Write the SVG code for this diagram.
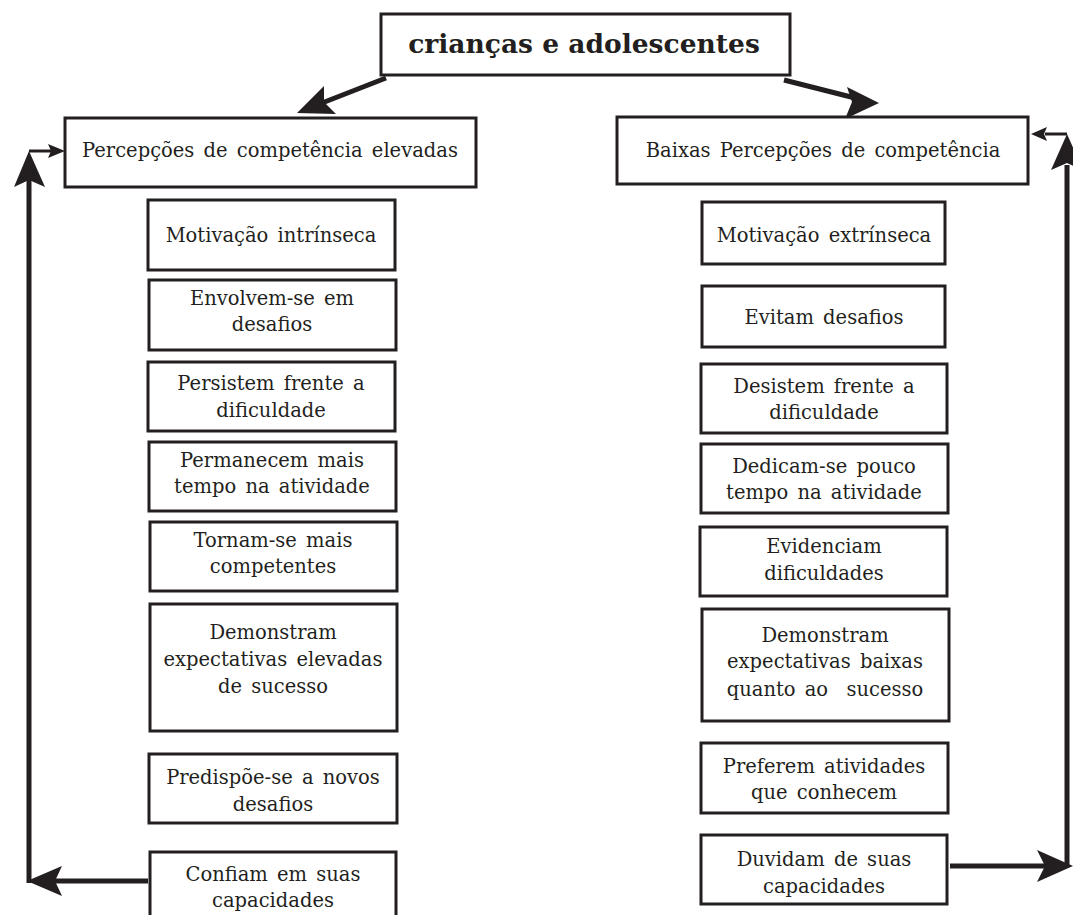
<svg xmlns="http://www.w3.org/2000/svg" width="1073" height="915" viewBox="0 0 1073 915">
<style>
.box{fill:#fff;stroke:#231f20;stroke-width:3}
.t{font-family:"DejaVu Serif","Liberation Serif",serif;font-size:19.5px;fill:#231f20;text-anchor:middle;word-spacing:3px}
.title{font-family:"DejaVu Serif","Liberation Serif",serif;font-size:26.5px;font-weight:bold;fill:#231f20;text-anchor:middle}
.ln{stroke:#231f20;stroke-width:5;fill:none}
.lns{stroke:#231f20;stroke-width:3;fill:none}
.hd{fill:#231f20}
</style>
<rect width="1073" height="915" fill="#fff"/>
<g id="connectors">
<line class="ln" x1="386" y1="78" x2="322" y2="103"/>
<polygon class="hd" points="297,113 324,86 324,102 336,114"/>
<line class="ln" x1="784" y1="80" x2="855" y2="98"/>
<polygon class="hd" points="879,103 847,87 852,102 845,119"/>
<line class="ln" x1="29" y1="178" x2="29" y2="883"/>
<polygon class="hd" points="29,151 45,187 29,180 14,187"/>
<polyline class="lns" points="29,151 51,151"/>
<polygon class="hd" points="65,151 48,158 51,151 48,144"/>
<line class="ln" x1="148" y1="881" x2="52" y2="881"/>
<polygon class="hd" points="27,881 62,866 55,881 62,896"/>
<line class="ln" x1="1067" y1="165" x2="1067" y2="866"/>
<polygon class="hd" points="1067,134 1083,170 1067,163 1051,170"/>
<polyline class="lns" points="1067,134 1045,134"/>
<polygon class="hd" points="1031,134 1047,127 1044,134 1047,141"/>
<line class="ln" x1="950" y1="866" x2="1046" y2="866"/>
<polygon class="hd" points="1073,866 1037,850 1045,866 1037,882"/>
</g>
<g id="n-title"><rect class="box" x="381" y="14" width="409" height="61"/><text class="title" x="584" y="53">crianças e adolescentes</text></g>
<g id="n-left-head"><rect class="box" x="65" y="118" width="411" height="69"/><text class="t" x="270" y="157">Percepções de competência elevadas</text></g>
<g id="n-l1"><rect class="box" x="148" y="200" width="247" height="70"/><text class="t" x="271" y="242">Motivação intrínseca</text></g>
<g id="n-l2"><rect class="box" x="149" y="280" width="247" height="70"/><text class="t" x="272" y="305">Envolvem-se em</text><text class="t" x="272" y="331">desafios</text></g>
<g id="n-l3"><rect class="box" x="148" y="362" width="247" height="69"/><text class="t" x="271" y="390">Persistem frente a</text><text class="t" x="271" y="417">dificuldade</text></g>
<g id="n-l4"><rect class="box" x="149" y="442" width="247" height="69"/><text class="t" x="272" y="467">Permanecem mais</text><text class="t" x="272" y="493">tempo na atividade</text></g>
<g id="n-l5"><rect class="box" x="150" y="522" width="247" height="69"/><text class="t" x="273" y="547">Tornam-se mais</text><text class="t" x="273" y="573">competentes</text></g>
<g id="n-l6"><rect class="box" x="150" y="604" width="247" height="127"/><text class="t" x="273" y="639">Demonstram</text><text class="t" x="273" y="666">expectativas elevadas</text><text class="t" x="273" y="693">de sucesso</text></g>
<g id="n-l7"><rect class="box" x="149" y="754" width="248" height="69"/><text class="t" x="273" y="784">Predispõe-se a novos</text><text class="t" x="273" y="811">desafios</text></g>
<g id="n-l8"><rect class="box" x="150" y="852" width="246" height="90"/><text class="t" x="273" y="881">Confiam em suas</text><text class="t" x="273" y="907">capacidades</text></g>
<g id="n-right-head"><rect class="box" x="617" y="117" width="411" height="67"/><text class="t" x="823" y="157">Baixas Percepções de competência</text></g>
<g id="n-r1"><rect class="box" x="702" y="202" width="243" height="62"/><text class="t" x="824" y="242">Motivação extrínseca</text></g>
<g id="n-r2"><rect class="box" x="702" y="286" width="243" height="61"/><text class="t" x="824" y="324">Evitam desafios</text></g>
<g id="n-r3"><rect class="box" x="701" y="364" width="246" height="69"/><text class="t" x="824" y="393">Desistem frente a</text><text class="t" x="824" y="419">dificuldade</text></g>
<g id="n-r4"><rect class="box" x="701" y="444" width="247" height="69"/><text class="t" x="824" y="473">Dedicam-se pouco</text><text class="t" x="824" y="499">tempo na atividade</text></g>
<g id="n-r5"><rect class="box" x="700" y="527" width="247" height="69"/><text class="t" x="824" y="553">Evidenciam</text><text class="t" x="824" y="580">dificuldades</text></g>
<g id="n-r6"><rect class="box" x="702" y="609" width="247" height="112"/><text class="t" x="825" y="642">Demonstram</text><text class="t" x="825" y="668">expectativas baixas</text><text class="t" x="825" y="696" style="white-space:pre">quanto ao  sucesso</text></g>
<g id="n-r7"><rect class="box" x="701" y="743" width="247" height="70"/><text class="t" x="824" y="773">Preferem atividades</text><text class="t" x="824" y="799">que conhecem</text></g>
<g id="n-r8"><rect class="box" x="701" y="835" width="246" height="69"/><text class="t" x="824" y="866">Duvidam de suas</text><text class="t" x="824" y="893">capacidades</text></g>
</svg>
